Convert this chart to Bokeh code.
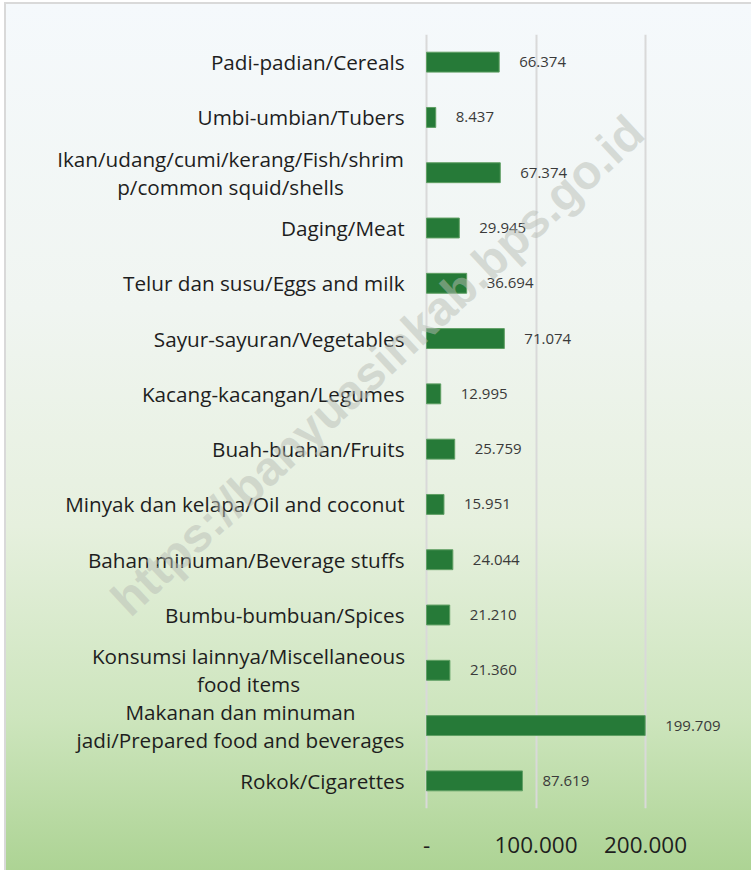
from bokeh.plotting import figure
from bokeh.models import Range1d, FixedTicker, ColumnDataSource, Label
from bokeh.embed import file_html
from bokeh.resources import INLINE
from bokeh.core.properties import value

# ---- data ----
categories = [
    "Padi-padian/Cereals",
    "Umbi-umbian/Tubers",
    "Ikan/udang/cumi/kerang/Fish/shrim\np/common squid/shells",
    "Daging/Meat",
    "Telur dan susu/Eggs and milk",
    "Sayur-sayuran/Vegetables",
    "Kacang-kacangan/Legumes",
    "Buah-buahan/Fruits",
    "Minyak dan kelapa/Oil and coconut",
    "Bahan minuman/Beverage stuffs",
    "Bumbu-bumbuan/Spices",
    "Konsumsi lainnya/Miscellaneous\nfood items",
    "Makanan dan minuman\njadi/Prepared food and beverages",
    "Rokok/Cigarettes",
]
values = [66374, 8437, 67374, 29945, 36694, 71074, 12995, 25759, 15951, 24044, 21210, 21360, 199709, 87619]
tick_values = [0, 100000, 200000]
tick_labels = ["-", "100.000", "200.000"]
watermark = "https://banyuasinkab.bps.go.id"

# ---- layout / style (pixels) ----
W, H = 751, 870
zero_px = 426.0          # x pixel of value 0
px_per_100k = 109.5
units_per_px = 100000 / px_per_100k
frame_top, frame_bottom = 34, 808
label_gap = 22
# horizontal offset of centred multi-line labels (half block width + gap)
multiline_offset = {2: -196, 11: -178, 12: -186}

n = len(categories)
row_px = (frame_bottom - frame_top) / n
ys = [i + 0.5 for i in range(n)]
labels_txt = [f"{v:,}".replace(",", ".") for v in values]
src = ColumnDataSource(dict(y=ys, v=values, lab=labels_txt, zero=[0] * n))

single_idx = [i for i in range(n) if "\n" not in categories[i]]
multi_idx = [i for i in range(n) if "\n" in categories[i]]
src_single = ColumnDataSource(dict(
    y=[ys[i] for i in single_idx], cat=[categories[i] for i in single_idx],
    zero=[0] * len(single_idx)))
src_multi = ColumnDataSource(dict(
    y=[ys[i] for i in multi_idx], cat=[categories[i] for i in multi_idx],
    zero=[0] * len(multi_idx), xo=[multiline_offset[i] for i in multi_idx]))

p = figure(
    width=W, height=H,
    x_range=Range1d(-zero_px * units_per_px, (W - zero_px) * units_per_px),
    y_range=Range1d(n, 0),
    output_backend="svg", toolbar_location=None,
    min_border_left=0, min_border_right=0,
    min_border_top=frame_top, min_border_bottom=H - frame_bottom,
)
bg = (
    "linear-gradient(#d9d9d9,#d9d9d9) 4px 2px / 100% 2px no-repeat, "
    "linear-gradient(#d9d9d9,#d9d9d9) 4px 2px / 2px 100% no-repeat, "
    "linear-gradient(to bottom, #f5f9fc 0%, #f0f5f1 35%, #e6f0de 60%, #cde5bd 82%, #acd393 100%) "
    "6px 4px / 100% 100% no-repeat, #ffffff"
)
p.styles = {"background": bg}
p.background_fill_alpha = 0
p.border_fill_alpha = 0
p.outline_line_color = None

# grid
p.ygrid.grid_line_color = None
p.xgrid.ticker = FixedTicker(ticks=tick_values)
p.xgrid.grid_line_color = "#d9d9d9"
p.xgrid.grid_line_width = 2

# axes
p.yaxis.visible = False
p.xaxis.ticker = FixedTicker(ticks=tick_values)
p.xaxis.major_label_overrides = {t: l for t, l in zip(tick_values, tick_labels)}
p.xaxis.axis_line_color = None
p.xaxis.major_tick_line_color = None
p.xaxis.minor_tick_line_color = None
p.xaxis.major_label_standoff = 22
p.xaxis.major_label_text_font = "Open Sans"
p.xaxis.major_label_text_font_size = "22.5px"
p.xaxis.major_label_text_color = "#1e1e1e"

# watermark
wm = Label(
    x=-49 * units_per_px, y=(365 - frame_top) / row_px,
    text=watermark, angle=0.75, angle_units="rad",
    text_align="center", text_baseline="middle",
    text_font="Liberation Sans", text_font_style="bold", text_font_size="48px",
    text_color="#b8bdb5", text_alpha=0.5,
)
p.add_layout(wm)

# bars
p.hbar(y="y", left=0, right="v", height=0.36, source=src,
       fill_color="#267a38", line_color="#5f9f63", line_width=1)

# category labels
p.text(x="zero", y="y", text="cat", source=src_single, x_offset=-label_gap,
       text_align="right", text_baseline="middle",
       text_font=value("Open Sans"), text_font_size="20.7px",
       text_color="#1e1e1e")
p.text(x="zero", y="y", text="cat", source=src_multi, x_offset="xo",
       text_align="center", text_baseline="middle",
       text_font=value("Open Sans"), text_font_size="20.7px",
       text_color="#1e1e1e", text_line_height=1.0)

# value labels
p.text(x="v", y="y", text="lab", source=src, x_offset=20,
       text_align="left", text_baseline="middle",
       text_font=value("Open Sans"), text_font_size="15px",
       text_color="#3a3a3a")

open("out.html", "w").write(file_html(p, INLINE))
